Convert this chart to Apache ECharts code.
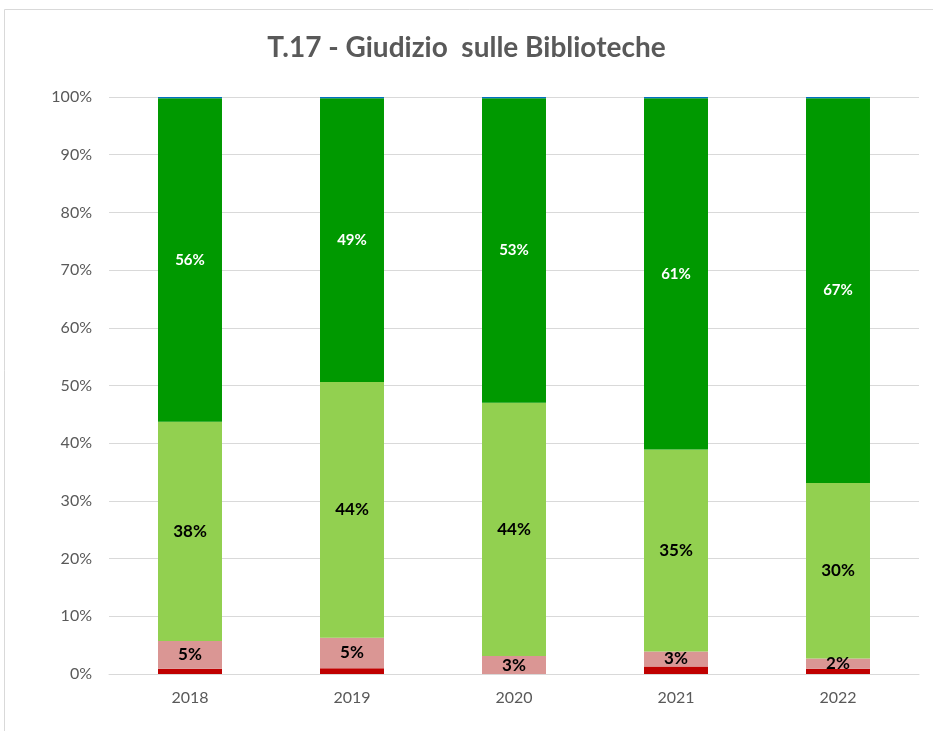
<!DOCTYPE html>
<html>
  <head>
    <meta charset="utf-8" />
    <title>T.17 - Giudizio sulle Biblioteche</title>
    <script src="https://cdn.jsdelivr.net/npm/echarts@6/dist/echarts.min.js"></script>
    <style>
      html, body { margin: 0; padding: 0; background: #fff; }
    </style>
  </head>
  <body>
    <div id="chartContainer" style="width: 933px;height:731px;"></div>
    <script>
        // dati (percentuali)
        var anni = ['2018', '2019', '2020', '2021', '2022'];
        var perNiente = [0.9, 1.0, 0.0, 1.3, 0.9];
        var poco = [4.8, 5.3, 3.1, 2.6, 1.8];
        var abbastanza = [38.0, 44.3, 43.9, 35.0, 30.4];
        var molto = [56.1, 49.2, 52.8, 60.9, 66.7];
        var nonRisponde = [0.2, 0.2, 0.2, 0.2, 0.2];

        var chart = echarts.init(document.getElementById('chartContainer'));
        var font = 'Lato, "Open Sans", sans-serif';

        function pct(p) { return Math.round(p.value) + '%'; }

        function serie(nome, dati, colore, label) {
          return {
            name: nome,
            type: 'bar',
            stack: 'tot',
            data: dati,
            barWidth: '39.5%',
            itemStyle: { color: colore },
            label: label,
          };
        }

        var option = {
          textStyle: { fontFamily: font },
          title: {
            text: 'T.17 - Giudizio  sulle Biblioteche',
            left: 'center',
            top: 29,
            textStyle: { fontSize: 28, fontWeight: 'bold', color: '#595959', fontFamily: font },
          },
          graphic: [
            {
              type: 'rect',
              shape: { x: 4.5, y: 9.5, width: 1000, height: 1000 },
              style: { fill: 'none', stroke: '#d9d9d9', lineWidth: 1 },
              silent: true,
            },
          ],
          grid: { left: 109, right: 14, top: 97, bottom: 57 },
          xAxis: {
            type: 'category',
            data: anni,
            axisLine: { lineStyle: { color: '#d9d9d9', width: 1 } },
            axisTick: { show: false },
            axisLabel: { color: '#595959', fontSize: 16, margin: 16, fontFamily: font },
          },
          yAxis: {
            type: 'value',
            min: 0,
            max: 100,
            interval: 10,
            axisLine: { show: false },
            axisTick: { show: false },
            axisLabel: { formatter: '{value}%', color: '#595959', fontSize: 16, margin: 17, fontFamily: font },
            splitLine: { lineStyle: { color: '#d9d9d9', width: 1 } },
          },
          series: [
            serie('Per niente soddisfatto', perNiente, '#c00000', { show: false }),
            serie('Poco soddisfatto', poco, '#da9694', {
              show: true, formatter: pct, color: '#000', fontWeight: 'bold', fontSize: 17, fontFamily: font,
            }),
            serie('Abbastanza soddisfatto', abbastanza, '#92d050', {
              show: true, formatter: pct, color: '#000', fontWeight: 'bold', fontSize: 17, fontFamily: font,
            }),
            serie('Molto soddisfatto', molto, '#009900', {
              show: true, formatter: pct, color: '#fff', fontWeight: 'bold', fontSize: 15, fontFamily: font,
            }),
            serie('Non risponde', nonRisponde, '#0070c0', { show: false }),
          ],
        };

        chart.setOption(option);
    </script>
  </body>
</html>
